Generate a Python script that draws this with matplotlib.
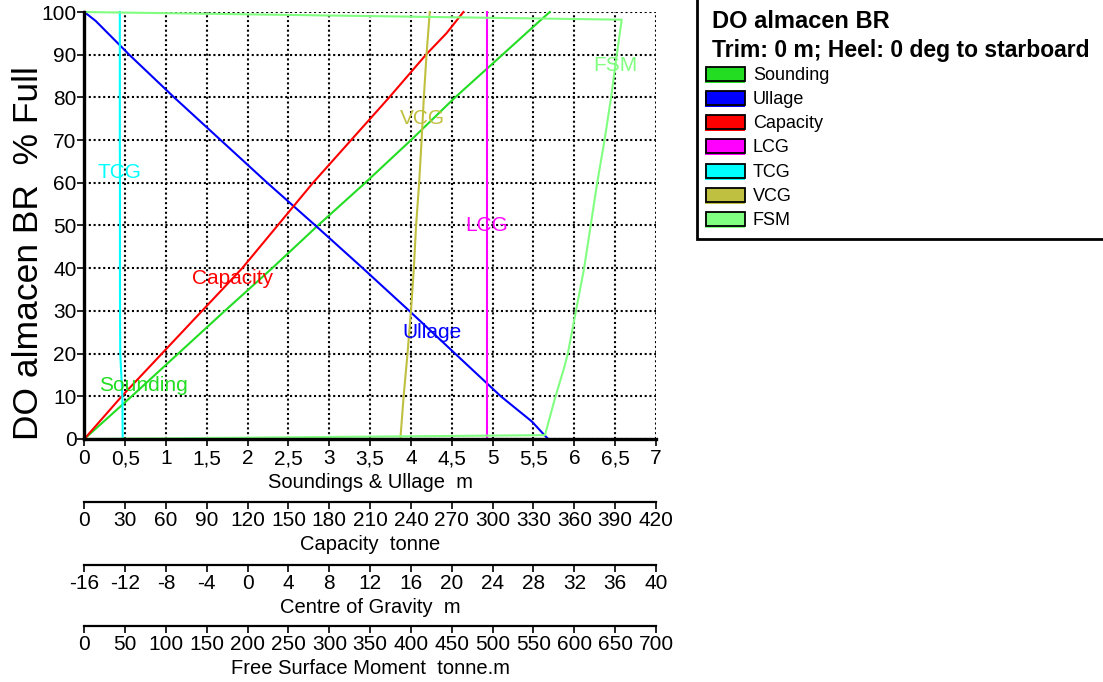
import numpy as np
import matplotlib
matplotlib.use("Agg")
import matplotlib.pyplot as plt
from matplotlib.patches import Rectangle

plt.rcParams['font.family'] = ['Liberation Sans', 'DejaVu Sans']

# ---- tank table: DO almacen BR ----
pct_sounding = [0, 10, 20, 30, 40, 50, 60, 70, 80, 90, 97.8, 100]
sounding_m = [0, 0.58, 1.15, 1.72, 2.30, 2.86, 3.44, 4.00, 4.54, 5.12, 5.57, 5.70]

pct_ullage = [0, 1.2, 4.1, 10, 20, 30, 40, 50, 60, 70, 80, 90, 97.9, 100]
ullage_m = [5.68, 5.62, 5.48, 5.10, 4.54, 3.98, 3.41, 2.83, 2.24, 1.67, 1.10, 0.55, 0.14, 0]

pct_capacity = [0, 10, 20, 30, 40, 50, 60, 70, 80, 90, 95, 100]
capacity_t = [0, 27.5, 57, 86.5, 116, 142, 168, 196, 224, 251, 266, 278.5]

pct_cg = [0, 10, 20, 30, 40, 50, 60, 70, 80, 90, 100]
lcg_m = [23.44, 23.44, 23.44, 23.44, 23.44, 23.44, 23.44, 23.44, 23.44, 23.44, 23.44]
tcg_m = [-12.24, -12.27, -12.48, -12.50, -12.51, -12.51, -12.51, -12.52, -12.52, -12.52, -12.52]
vcg_m = [14.96, 15.28, 15.66, 16.00, 16.28, 16.50, 16.80, 17.04, 17.26, 17.52, 17.84]

pct_fsm = [0, 0.9, 10, 17, 20, 30, 40, 50, 60, 70, 80, 90, 98.2, 100]
fsm_tm = [0, 564, 577, 588, 592, 602, 612, 620, 628, 637, 645, 652, 658, 0]

series_names = ['Sounding', 'Ullage', 'Capacity', 'LCG', 'TCG', 'VCG', 'FSM']
series_colors = ['#22dd22', '#0000ff', '#ff0000', '#ff00ff', '#00ffff', '#c0c040', '#80ff80']
label_levels = [12.5, 25, 37.5, 50, 62.5, 75, 87.5]

# scale factors from each quantity to the common horizontal scale (Soundings & Ullage, m)
cap_per_m = 60.0                 # 0..420 t    over 0..7
cg_per_m, cg_zero = 8.0, -16.0   # -16..40 m   over 0..7
fsm_per_m = 100.0                # 0..700 t.m  over 0..7

W, H = 1103, 682
fig = plt.figure(figsize=(W / 100, H / 100), dpi=100)
ax_l, ax_r, ax_t, ax_b = 84.3, 656.0, 12.0, 439.0
ax = fig.add_axes([ax_l / W, 1 - ax_b / H, (ax_r - ax_l) / W, (ax_b - ax_t) / H])

def to_main(values, scale, offset=0.0):
    return (np.asarray(values, float) - offset) / scale

curves = [
    (to_main(sounding_m, 1.0), pct_sounding),
    (to_main(ullage_m, 1.0), pct_ullage),
    (to_main(capacity_t, cap_per_m), pct_capacity),
    (to_main(lcg_m, cg_per_m, cg_zero), pct_cg),
    (to_main(tcg_m, cg_per_m, cg_zero), pct_cg),
    (to_main(vcg_m, cg_per_m, cg_zero), pct_cg),
    (to_main(fsm_tm, fsm_per_m), pct_fsm),
]

for (xv, yv), name, col, lev in zip(curves, series_names, series_colors, label_levels):
    ax.plot(xv, yv, color=col, lw=1.5, clip_on=False, zorder=3)
    # curve label sits on the curve at its own height
    yv_a = np.asarray(yv, float)
    xv_a = np.asarray(xv, float)
    if name == 'FSM':
        m = yv_a < 99
        xl = np.interp(lev, yv_a[m][1:], xv_a[m][1:])
    else:
        order = np.argsort(yv_a)
        xl = np.interp(lev, yv_a[order], xv_a[order])
    ax.text(xl, lev, name, color=col, fontsize=15, ha='center', va='center', zorder=4)

ax.set_xlim(0, 7)
ax.set_ylim(0, 100)
ax.set_xticks(np.arange(0, 7.01, 0.5))
ax.set_xticklabels([('%g' % v).replace('.', ',') for v in np.arange(0, 7.01, 0.5)])
ax.set_yticks(np.arange(0, 101, 10))
ax.grid(True, color='black', linestyle=(0, (1, 1.3)), linewidth=1.5, zorder=1)
ax.set_axisbelow(True)
for s in ['top', 'right']:
    ax.spines[s].set_visible(False)
for s in ['left', 'bottom']:
    ax.spines[s].set_linewidth(2.4)
    ax.spines[s].set_zorder(5)
ax.tick_params(axis='both', direction='out', length=5, width=1.2, labelsize=15, colors='black')
ax.tick_params(axis='y', pad=0.5)
ax.tick_params(axis='x', pad=2.5)
ax.set_xlabel('Soundings & Ullage  m', fontsize=14.5, labelpad=3.5)
ax.set_ylabel('DO almacen BR  % Full', fontsize=25.5)
ax.yaxis.set_label_coords(-0.069, 0.436)

def add_scale(loc_px, fwd, inv, ticks, label):
    loc = (ax_b - loc_px) / (ax_b - ax_t)
    sec = ax.secondary_xaxis(loc, functions=(fwd, inv))
    sec.set_xticks(ticks)
    sec.set_xticklabels(['%g' % t for t in ticks])
    sec.spines['bottom'].set_linewidth(1.6)
    sec.tick_params(direction='out', length=5, width=1.2, labelsize=15, pad=1.5)
    sec.set_xlabel(label, fontsize=14.5, labelpad=3.5)
    return sec

add_scale(502, lambda x: x * cap_per_m, lambda c: c / cap_per_m,
          np.arange(0, 421, 30), 'Capacity  tonne')
add_scale(565, lambda x: x * cg_per_m + cg_zero, lambda c: (c - cg_zero) / cg_per_m,
          np.arange(-16, 41, 4), 'Centre of Gravity  m')
add_scale(626, lambda x: x * fsm_per_m, lambda f: f / fsm_per_m,
          np.arange(0, 701, 50), 'Free Surface Moment  tonne.m')

# ---- key panel ----
lax = fig.add_axes([0, 0, 1, 1], zorder=10)
lax.set_xlim(0, W)
lax.set_ylim(H, 0)
lax.axis('off')
lax.add_patch(Rectangle((697, -10), 420, 249, fill=False, ec='black', lw=2, clip_on=False))
lax.text(712, 21, 'DO almacen BR', fontsize=17, fontweight='bold', va='center', ha='left')
lax.text(712, 50, 'Trim: 0 m; Heel: 0 deg to starboard', fontsize=16.5, fontweight='bold',
         va='center', ha='left')
for i, (name, col) in enumerate(zip(series_names, series_colors)):
    yc = 74 + i * 24.3
    lax.add_patch(Rectangle((705, yc - 6.5), 40, 15, fc=col, ec='none'))
    lax.add_patch(Rectangle((706, yc - 7.5), 39, 14, fc=col, ec='black', lw=1.3))
    lax.text(753, yc + 1, name, fontsize=13, va='center', ha='left')

fig.savefig('out.png', dpi=100)
